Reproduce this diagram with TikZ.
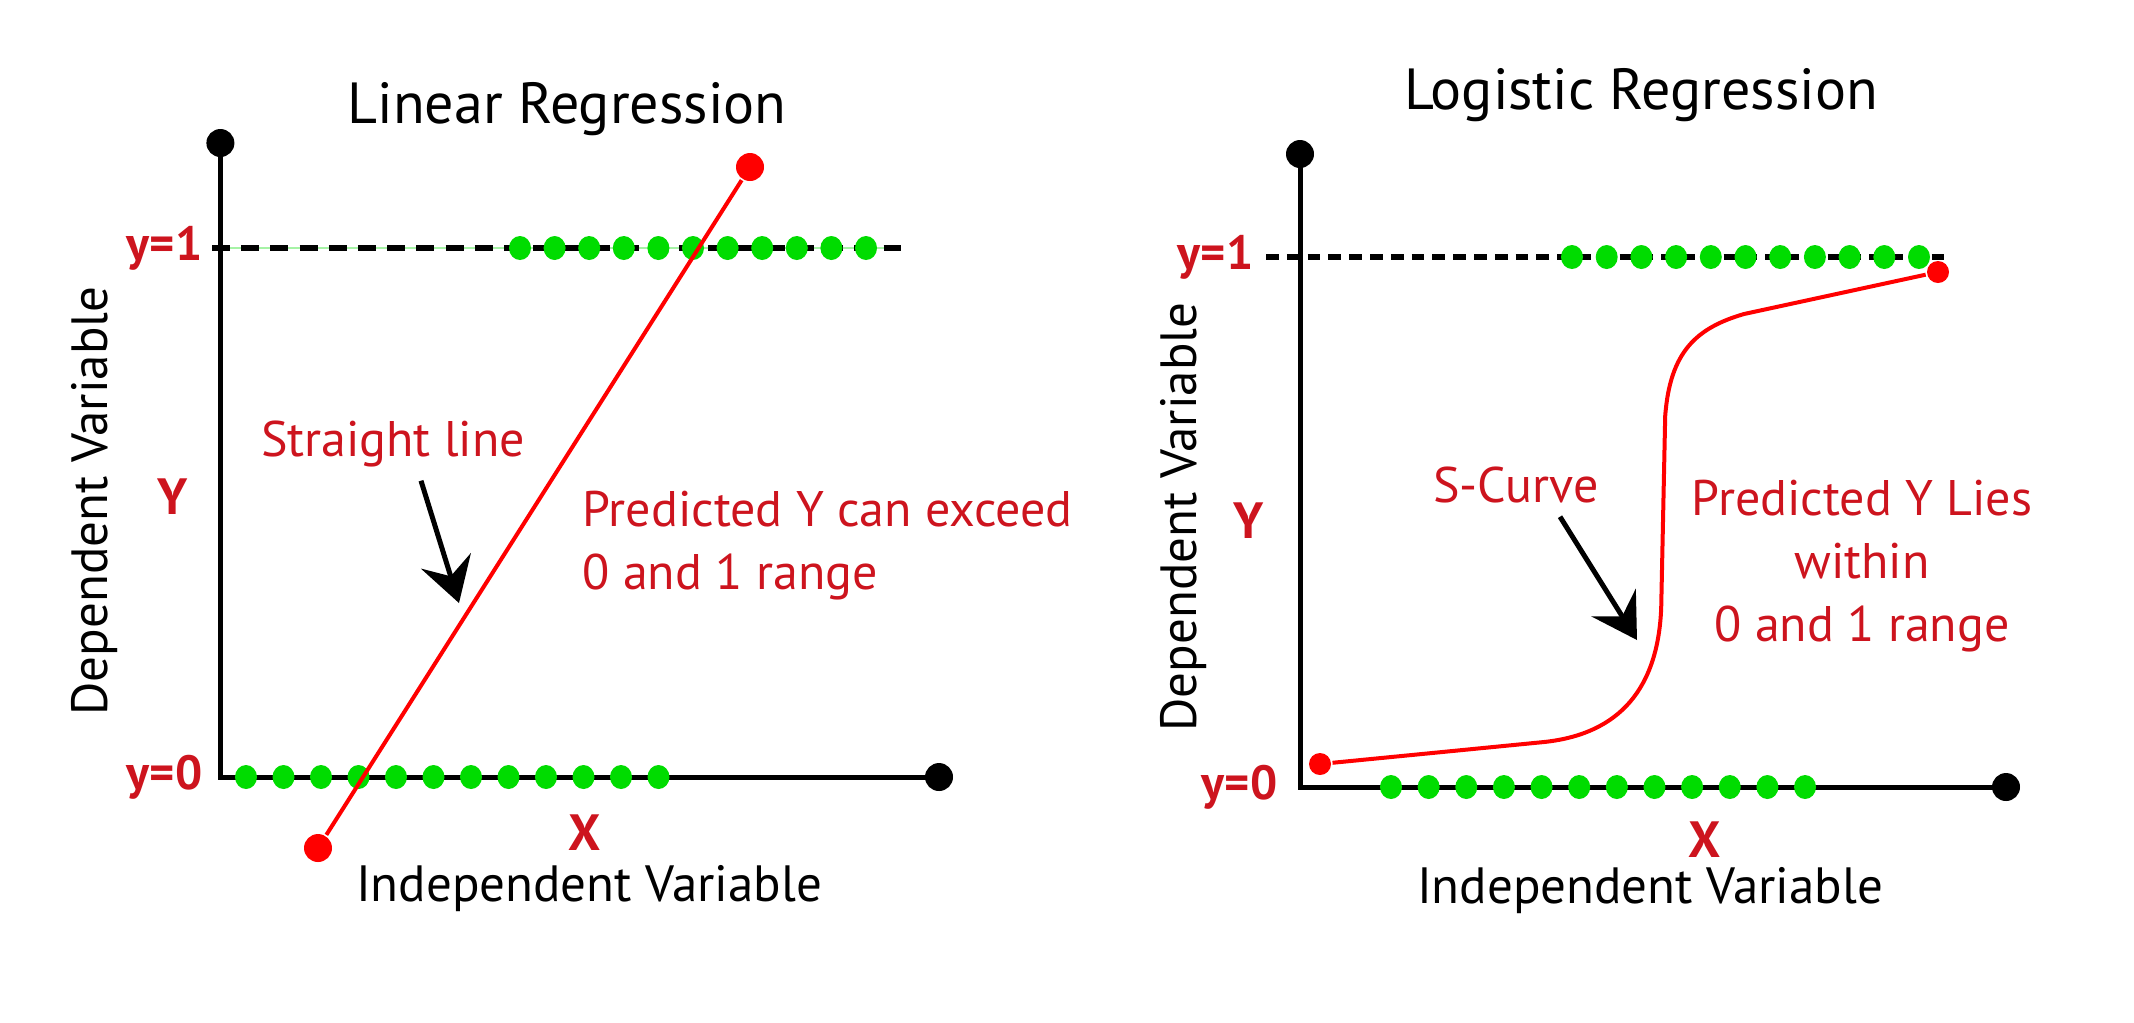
\documentclass[tikz,border=0pt]{standalone}
\usepackage{fontspec}
\setmainfont{PT Sans}
\usepackage{tikz}
\usetikzlibrary{arrows.meta,shapes.geometric}
\definecolor{txtred}{RGB}{205,20,30}
\definecolor{linered}{RGB}{255,0,0}
\definecolor{dotgreen}{RGB}{0,220,0}

\begin{document}
\begin{tikzpicture}[thick, every node/.style={inner sep=0pt}, font=\fontsize{12.75}{15.75}\selectfont]
				% [frame of the whole picture]
				\useasboundingbox (0pt, 0pt) rectangle (533.5pt, -255.5pt);
				% left: linear regression
				\node (tlin) at (141.75pt, -27.25pt) {\fontsize{14.5}{17}\selectfont Linear Regression};
				\coordinate (ol) at (55.1pt, -194.25pt);
				\coordinate (da) at (53pt, -62pt);
				\coordinate (db) at (225.25pt, -62pt);
				\draw [line width=0.3pt, color=dotgreen!35] (ol |- da) to (db);
				\draw [line width=1.4pt, color=black, dash pattern=on 4.5pt off 2.8pt] (da) to (db);
				\draw [line width=1.25pt, color=black] (55.1pt, -35.75pt) to (ol) to (234.75pt, -194.25pt);
				\node (tl) [circle, minimum size=7pt, fill=black] at (55.1pt, -35.75pt) {};
				\node (rl) [circle, minimum size=7pt, fill=black] at (234.75pt, -194.25pt) {};
				\foreach \i in {0,...,10}
					\node (ga\i) [ellipse, minimum width=5.5pt, minimum height=6pt, fill=dotgreen] at ({130pt+\i*8.65pt}, -62pt) {};
				\foreach \i in {0,...,11}
					\node (gb\i) [ellipse, minimum width=5.5pt, minimum height=6pt, fill=dotgreen] at ({61.5pt+\i*9.375pt}, -194.25pt) {};
				\node (rt) [circle, minimum size=7pt, fill=linered] at (187.5pt, -41.75pt) {};
				\node (rb) [circle, minimum size=7pt, fill=linered] at (79.5pt, -212pt) {};
				\draw [line width=1pt, color=linered] (rb) to (rt);
				\node (yl1) [anchor=east, text=txtred] at (51pt, -62pt) {\fontsize{12}{14}\selectfont\bfseries y=1};
				\node (yl0) [anchor=east, text=txtred] at (51pt, -194.25pt) {\fontsize{12}{14}\selectfont\bfseries y=0};
				\node (yl) [text=txtred] at (43.25pt, -124.25pt) {\bfseries Y};
				\node (xl) [text=txtred] at (146.25pt, -208.25pt) {\bfseries X};
				\node (dvl) [rotate=90] at (23.75pt, -125.25pt) {Dependent Variable};
				\node (ivl) at (147.25pt, -222.25pt) {Independent Variable};
				\node (sl) [text=txtred, font=\fontsize{12.5}{15.75}\selectfont] at (98.25pt, -111pt) {Straight line};
				\node (pl) [text=txtred, anchor=west, align=left, font=\fontsize{12.5}{15.75}\selectfont] at (145.25pt, -136.5pt) {Predicted Y can exceed\\0 and 1 range};
				\coordinate (hl) at (114.75pt, -150.75pt);
				\draw [line width=1.25pt, color=black, -{Stealth[length=11pt, width=13pt, inset=4pt]}] ([xshift=7pt, yshift=-3pt]sl.south) to (hl);
				% right: logistic regression
				\node (tlog) at (410.25pt, -23.75pt) {\fontsize{14.5}{17}\selectfont Logistic Regression};
				\coordinate (or) at (325pt, -196.75pt);
				\coordinate (dc) at (316.5pt, -64.25pt);
				\coordinate (dd) at (487.25pt, -64.25pt);
				\draw [line width=1.4pt, color=black, dash pattern=on 3.2pt off 2pt] (dc) to (dd);
				\draw [line width=1.25pt, color=black] (325pt, -38.5pt) to (or) to (501.5pt, -196.75pt);
				\node (tr) [circle, minimum size=7pt, fill=black] at (325pt, -38.5pt) {};
				\node (rr) [circle, minimum size=7pt, fill=black] at (501.5pt, -196.75pt) {};
				\foreach \i in {0,...,10}
					\node (gc\i) [ellipse, minimum width=5.5pt, minimum height=6pt, fill=dotgreen] at ({393pt+\i*8.675pt}, -64.25pt) {};
				\foreach \i in {0,...,11}
					\node (gd\i) [ellipse, minimum width=5.5pt, minimum height=6pt, fill=dotgreen] at ({347.75pt+\i*9.41pt}, -196.75pt) {};
				\node (sa) [circle, minimum size=5.5pt, fill=linered] at (330pt, -191pt) {};
				\node (sb) [circle, minimum size=5.5pt, fill=linered] at (484.5pt, -68pt) {};
				\draw [line width=1pt, color=linered] (sa) to (386pt, -185.5pt)
					.. controls (405pt, -183.5pt) and (414.5pt, -172pt) .. (415.3pt, -152pt)
					to (416.3pt, -104pt)
					.. controls (417.5pt, -88pt) and (424pt, -82pt) .. (436pt, -78.5pt)
					to (sb);
				\node (yr1) [anchor=east, text=txtred] at (313.75pt, -64.25pt) {\fontsize{12}{14}\selectfont\bfseries y=1};
				\node (yr0) [anchor=east, text=txtred] at (319.75pt, -196.75pt) {\fontsize{12}{14}\selectfont\bfseries y=0};
				\node (yr) [text=txtred] at (312.25pt, -130.25pt) {\bfseries Y};
				\node (xr) [text=txtred] at (426.25pt, -210pt) {\bfseries X};
				\node (dvr) [rotate=90] at (296pt, -129.25pt) {Dependent Variable};
				\node (ivr) at (412.5pt, -222.75pt) {Independent Variable};
				\node (sc) [text=txtred, font=\fontsize{12.5}{15.75}\selectfont] at (379pt, -121.25pt) {S-Curve};
				\node (pr) [text=txtred, align=center, font=\fontsize{12.5}{15.75}\selectfont] at (465.5pt, -141.5pt) {Predicted Y Lies\\within\\0 and 1 range};
				\coordinate (hr) at (409.25pt, -160pt);
				\draw [line width=1.25pt, color=black, -{Stealth[length=11pt, width=13pt, inset=4pt]}] ([xshift=11pt, yshift=-3pt]sc.south) to (hr);
			\end{tikzpicture}
\end{document}
